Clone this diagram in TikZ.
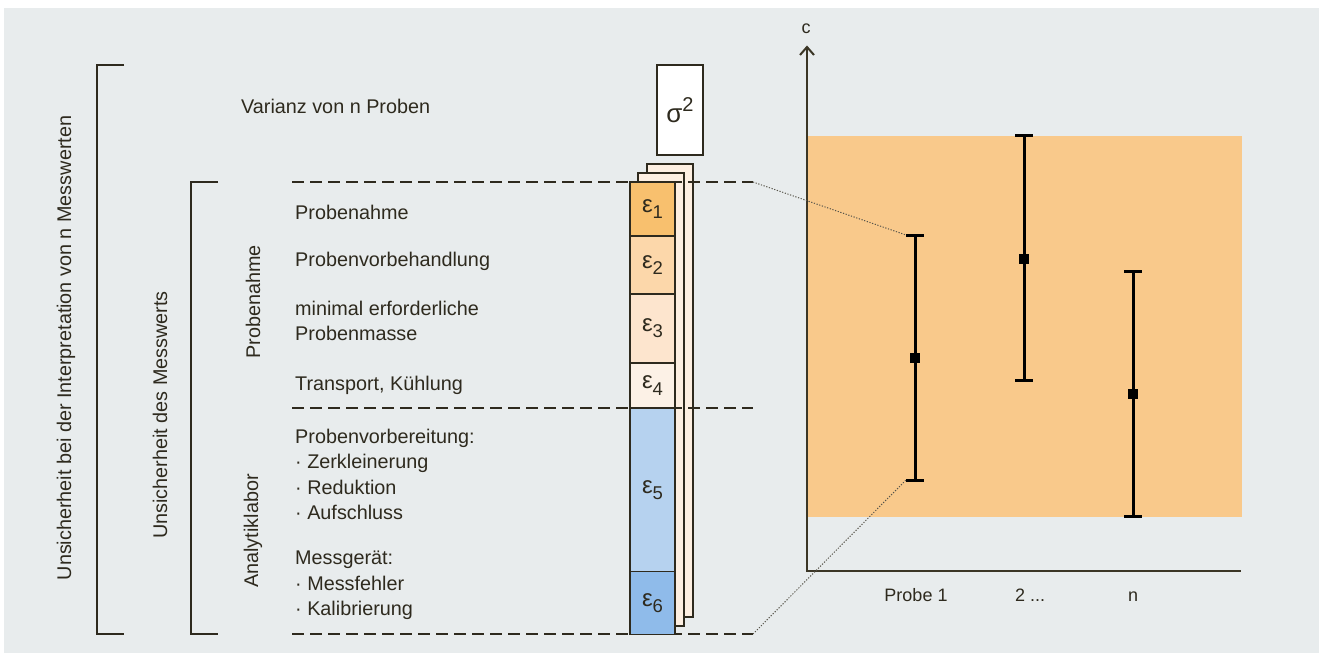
\documentclass[tikz,border=0pt]{standalone}
\usepackage{fontspec}
\setmainfont{Liberation Sans}
\definecolor{bgc}{HTML}{E8ECED}
\definecolor{band}{HTML}{F9C98B}
\definecolor{ink}{HTML}{2E2A1E}
\definecolor{axisc}{HTML}{3B3626}
\definecolor{ea}{HTML}{F8C06E}
\definecolor{eb}{HTML}{FCD7AA}
\definecolor{ec}{HTML}{FDE5CE}
\definecolor{ed}{HTML}{FCF1E6}
\definecolor{ee}{HTML}{B6D2EF}
\definecolor{ef}{HTML}{8FBBEA}
\definecolor{sheetc}{HTML}{FDEFE1}
\newcommand{\eps}[1]{ε\raisebox{-0.26em}{\fontsize{18.5}{18.5}\selectfont #1}}
\tikzset{
  lbl/.style={anchor=base west, inner sep=0pt, text=ink, font=\fontsize{19.8}{25}\selectfont},
  vlbl/.style={rotate=90, inner sep=0pt, text=ink, font=\fontsize{19.8}{25}\selectfont},
  cell/.style={draw=ink, line width=1.4pt, minimum width=45pt, inner sep=0pt, text=ink,
               font=\fontsize{24}{24}\selectfont},
  sheet/.style={draw=ink, line width=1.4pt, fill=sheetc},
  bracketline/.style={draw=ink, line width=1.6pt},
  guide/.style={draw=ink, line width=1.3pt, dash pattern=on 12pt off 6pt},
  guidedot/.style={draw=ink!80, line width=1pt, dash pattern=on 1.2pt off 1.6pt},
  axisline/.style={draw=axisc, line width=2pt},
  errbar/.style={draw=black, line width=3pt},
  meanpt/.style={fill=black, minimum size=10pt, inner sep=0pt},
  ticklbl/.style={text=ink, inner sep=0pt, font=\fontsize{18}{18}\selectfont}
}
\begin{document}
\begin{tikzpicture}[x=1pt, y=-1pt]
\useasboundingbox (0,0) rectangle (1319,653);
\fill[white] (0,0) rectangle (1319,653);
\fill[bgc] (4,8) rectangle (1319,653);

% shaded value band behind the chart
\fill[band] (808,136) rectangle (1242,517);

% brackets
\draw[bracketline] (124,65) -- (97,65) -- (97,634) -- (124,634);
\draw[bracketline] (218,182) -- (191,182) -- (191,634) -- (218,634);
\node[vlbl] (outer) at (66,348) {Unsicherheit bei der Interpretation von n Messwerten};
\node[vlbl] (inner) at (160,415) {Unsicherheit des Messwerts};
\node[vlbl] (grpA) at (253,302) {Probenahme};
\node[vlbl] (grpB) at (253,531) {Analytiklabor};

% stacked sheets behind the column
\draw[sheet] (647,164) rectangle (693,617);
\draw[sheet] (638,173) rectangle (684,626);

% guide lines
\coordinate (gTop) at (753,182);
\coordinate (gMid) at (753,408);
\coordinate (gBot) at (753,634);
\draw[guide] (292,182) -- (gTop);
\draw[guide] (292,408) -- (gMid);
\draw[guide] (292,634) -- (gBot);

% variance box
\node[cell, fill=white, minimum width=46pt, minimum height=90pt, font=\fontsize{26}{26}\selectfont]
  (sig) at (680,110) {σ\raisebox{0.42em}{\fontsize{20}{20}\selectfont 2}};

% error components
\node[cell, fill=ea, minimum height=54pt] (e1) at (652.5,209) {\eps{1}};
\node[cell, fill=eb, minimum height=58pt] (e2) at (652.5,265) {\eps{2}};
\node[cell, fill=ec, minimum height=69pt] (e3) at (652.5,328.5) {\eps{3}};
\node[cell, fill=ed, minimum height=45pt] (e4) at (652.5,385.5) {\eps{4}};
\node[cell, fill=ee, minimum height=163pt] (e5) at (652.5,490) {\eps{5}};
\node[cell, fill=ef, minimum height=63pt] (e6) at (652.5,603) {\eps{6}};

% labels
\node[lbl] (var) at (241,113) {Varianz von n Proben};
\node[lbl] (t1) at (295,219) {Probenahme};
\node[lbl] (t2) at (295,266) {Probenvorbehandlung};
\node[lbl] (t3) at (295,315) {minimal erforderliche};
\node[lbl] (t3b) at (295,340) {Probenmasse};
\node[lbl] (t4) at (295,390) {Transport, Kühlung};
\node[lbl] (t5) at (295,443) {Probenvorbereitung:};
\node[lbl] (t5a) at (295,468) {· Zerkleinerung};
\node[lbl] (t5b) at (295,494) {· Reduktion};
\node[lbl] (t5c) at (295,519) {· Aufschluss};
\node[lbl] (t6) at (295,564) {Messgerät:};
\node[lbl] (t6a) at (295,590) {· Messfehler};
\node[lbl] (t6b) at (295,615) {· Kalibrierung};

% axes
\coordinate (origin) at (807,571);
\coordinate (ytop) at (807,47);
\coordinate (xend) at (1241,571);
\draw[axisline] (ytop) -- (origin) -- (xend);
\draw[axisline, line join=miter] (800,55) -- (ytop) -- (814,55);
\node[ticklbl, anchor=base] (clbl) at (806,33) {c};

% error bars
\foreach \nm/\x/\lo/\mid/\hi in {p1/915/235/358/480, p2/1024/135/259/380, p3/1133/271/394/516}{
  \coordinate (\nm top) at (\x,\lo);
  \coordinate (\nm bot) at (\x,\hi);
  \draw[errbar] (\nm top) -- (\nm bot);
  \draw[errbar] ([xshift=-9pt]\nm top) -- ([xshift=9pt]\nm top);
  \draw[errbar] ([xshift=-9pt]\nm bot) -- ([xshift=9pt]\nm bot);
  \node[meanpt] (\nm m) at (\x,\mid) {};
}

% links from the column to the first sample
\draw[guidedot] (gTop) -- ([xshift=-9pt]p1top);
\draw[guidedot] (gBot) -- ([xshift=-9pt]p1bot);

% sample labels
\node[ticklbl, anchor=base] (s1) at (916,601) {Probe 1};
\node[ticklbl, anchor=base] (s2) at (1030,601) {2 ...};
\node[ticklbl, anchor=base] (s3) at (1133,601) {n};
\end{tikzpicture}
\end{document}
